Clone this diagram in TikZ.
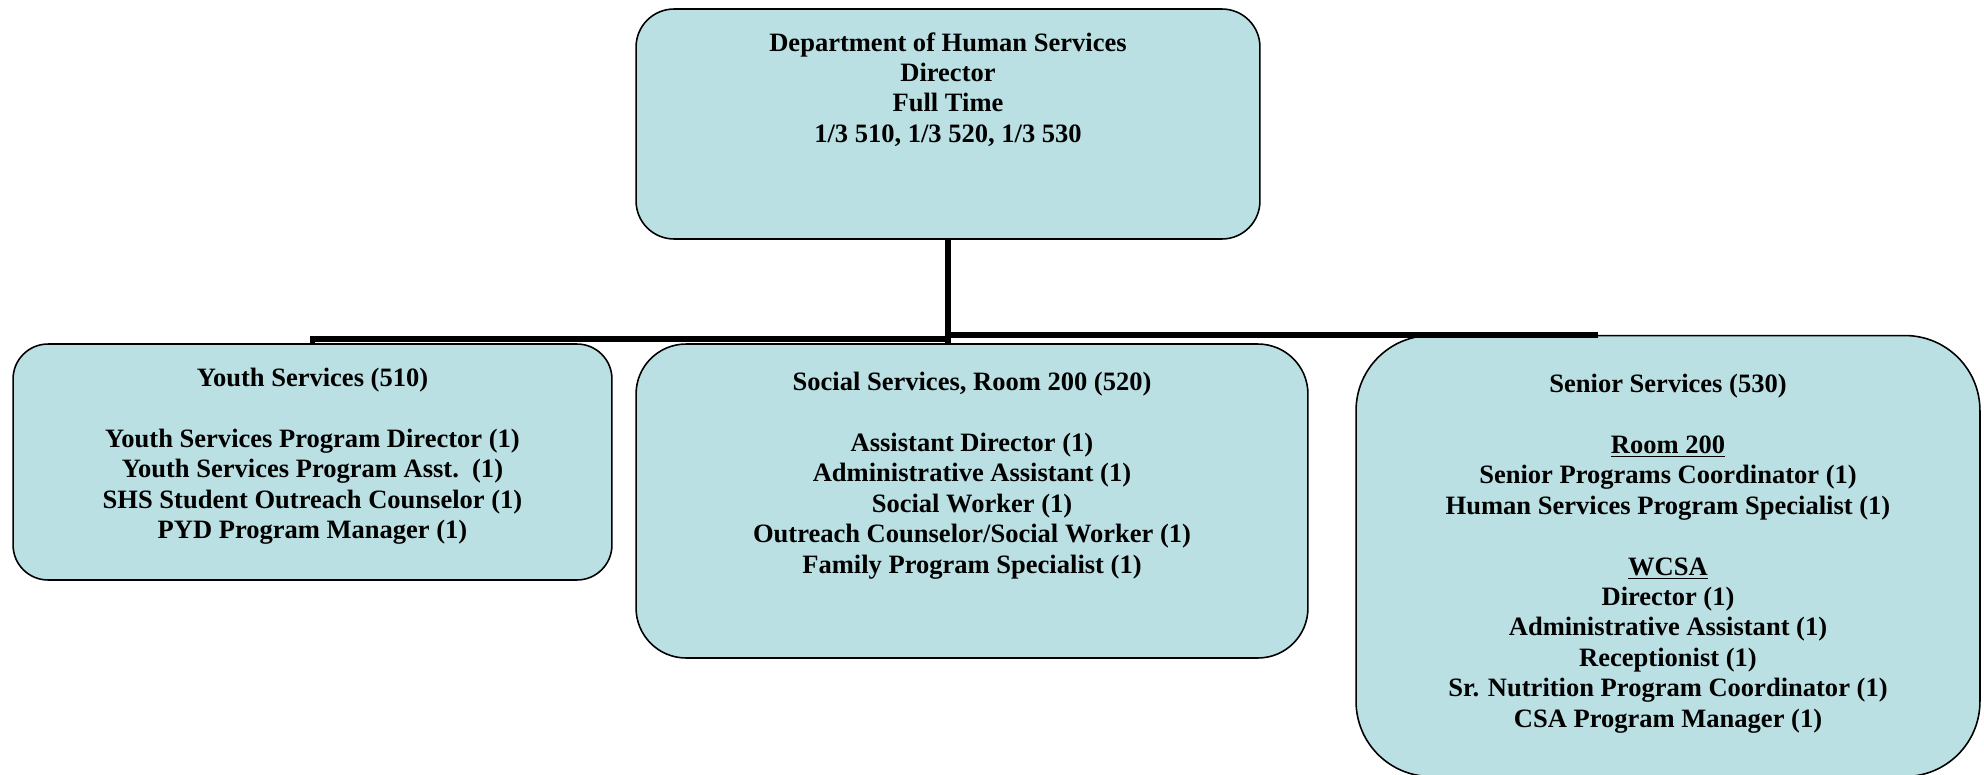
\documentclass[tikz,border=0pt]{standalone}
\usepackage{fontspec}
\setmainfont{Liberation Serif}
\usetikzlibrary{calc}
\definecolor{boxblue}{RGB}{187,224,227}
\tikzstyle{unit} = [rectangle, draw=black, line width=0.9pt, fill=boxblue, inner sep=0]
\tikzstyle{unittext} = [align=center, anchor=north, inner sep=0, font=\bfseries\fontsize{15.1}{17.3}\selectfont]
\tikzstyle{link} = [line width=3.4pt]

\begin{document}
\begin{tikzpicture}[x=0.02cm, y=-0.02cm]
\useasboundingbox (0,0) rectangle (1984,774);

    % Department head
    \node (dir) at (948,124) [unit, rounded corners=0.76cm, minimum width=12.48cm, minimum height=4.6cm] {};
    \node (dirtext) at (948,32) [unittext] {Department of Human Services\\ Director\\ Full Time\\ 1/3 510, 1/3 520, 1/3 530};

    % Youth Services
    \node (youth) at (312.5,462) [unit, rounded corners=0.7cm, minimum width=11.98cm, minimum height=4.72cm] {};
    \node (youthtext) at (312.5,368) [unittext] {Youth Services (510)\\[17.3pt] Youth Services Program Director (1)\\ Youth Services Program Asst.\ \ (1)\\ SHS Student Outreach Counselor (1)\\ PYD Program Manager (1)};

    % Social Services
    \node (social) at (972,501) [unit, rounded corners=1cm, minimum width=13.44cm, minimum height=6.28cm] {};
    \node (socialtext) at (972,372) [unittext] {Social Services, Room 200 (520)\\[17.3pt] Assistant Director (1)\\ Administrative Assistant (1)\\ Social Worker (1)\\ Outreach Counselor/Social Worker (1)\\ Family Program Specialist (1)};

    % Senior Services
    \node (senior) at (1668,556) [unit, rounded corners=1.5cm, minimum width=12.48cm, minimum height=8.82cm] {};
    \node (seniortext) at (1668,374) [unittext] {Senior Services (530)\\[17.3pt] \underline{Room 200}\\ Senior Programs Coordinator (1)\\ Human Services Program Specialist (1)\\[17.3pt] \underline{WCSA}\\ Director (1)\\ Administrative Assistant (1)\\ Receptionist (1)\\ Sr. Nutrition Program Coordinator (1)\\ CSA Program Manager (1)};

    % Connectors
    \coordinate (hub) at (948,339);
    \coordinate (seniortip) at (1598,335);
    \draw[link] (dir.south) -- (hub);
    \draw[link] (hub) -| (youth.north);
    \draw[link] (hub) -- (hub |- social.north);
    \draw[link] (hub |- seniortip) -- (seniortip);

\end{tikzpicture}
\end{document}
